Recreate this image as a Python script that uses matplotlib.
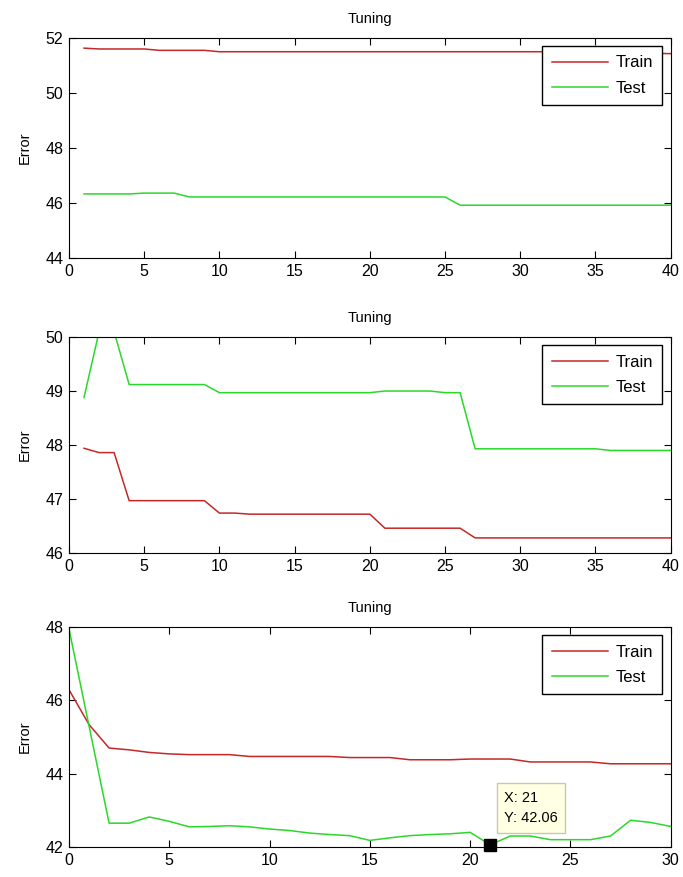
import numpy as np
import matplotlib
matplotlib.use('Agg')
import matplotlib.pyplot as plt

plt.rcParams['font.family'] = ['Liberation Sans', 'DejaVu Sans']

# panel 1: x = 1..40
x1 = np.arange(1, 41)
train1 = [51.63, 51.6, 51.6, 51.6, 51.6, 51.55, 51.55, 51.55, 51.55, 51.5,
          51.5, 51.5, 51.5, 51.5, 51.5, 51.5, 51.5, 51.5, 51.5, 51.5,
          51.5, 51.5, 51.5, 51.5, 51.5, 51.5, 51.5, 51.5, 51.5, 51.5,
          51.5, 51.5, 51.48, 51.48, 51.47, 51.47, 51.46, 51.45, 51.44, 51.43]
test1 = [46.33, 46.33, 46.33, 46.33, 46.36, 46.36, 46.36, 46.22, 46.22, 46.22,
         46.22, 46.22, 46.22, 46.22, 46.22, 46.22, 46.22, 46.22, 46.22, 46.22,
         46.22, 46.22, 46.22, 46.22, 46.22, 45.92, 45.92, 45.92, 45.92, 45.92,
         45.92, 45.92, 45.92, 45.92, 45.92, 45.92, 45.92, 45.92, 45.92, 45.92]

# panel 2: x = 1..40
x2 = np.arange(1, 41)
train2 = [47.94, 47.86, 47.86, 46.97, 46.97, 46.97, 46.97, 46.97, 46.97, 46.74,
          46.74, 46.72, 46.72, 46.72, 46.72, 46.72, 46.72, 46.72, 46.72, 46.72,
          46.46, 46.46, 46.46, 46.46, 46.46, 46.46, 46.28, 46.28, 46.28, 46.28,
          46.28, 46.28, 46.28, 46.28, 46.28, 46.28, 46.28, 46.28, 46.28, 46.28]
test2 = [48.88, 50.1, 50.1, 49.12, 49.12, 49.12, 49.12, 49.12, 49.12, 48.97,
         48.97, 48.97, 48.97, 48.97, 48.97, 48.97, 48.97, 48.97, 48.97, 48.97,
         49.0, 49.0, 49.0, 49.0, 48.97, 48.97, 47.93, 47.93, 47.93, 47.93,
         47.93, 47.93, 47.93, 47.93, 47.93, 47.9, 47.9, 47.9, 47.9, 47.9]

# panel 3: x = 0..30
x3 = np.arange(0, 31)
train3 = [46.29, 45.34, 44.7, 44.65, 44.58, 44.54, 44.52, 44.52, 44.52, 44.47,
          44.47, 44.47, 44.47, 44.47, 44.44, 44.44, 44.44, 44.38, 44.38, 44.38,
          44.4, 44.4, 44.4, 44.32, 44.32, 44.32, 44.32, 44.27, 44.27, 44.27, 44.27]
test3 = [47.95, 45.3, 42.65, 42.65, 42.82, 42.7, 42.55, 42.56, 42.58, 42.55,
         42.49, 42.45, 42.38, 42.34, 42.31, 42.18, 42.25, 42.31, 42.34, 42.36,
         42.4, 42.06, 42.3, 42.3, 42.2, 42.2, 42.2, 42.3, 42.73, 42.67, 42.56]

tip_x, tip_y = 21, 42.06

red = '#c42828'
green = '#2ad82a'

fig = plt.figure(figsize=(6.83, 8.77), dpi=100)
panels = [
    ([0.101, 0.7058, 0.881, 0.2509], x1, train1, test1, (0, 40), (44, 52), np.arange(44, 53, 2)),
    ([0.101, 0.3694, 0.881, 0.2463], x2, train2, test2, (0, 40), (46, 50), np.arange(46, 51, 1)),
    ([0.101, 0.0342, 0.881, 0.2508], x3, train3, test3, (0, 30), (42, 48), np.arange(42, 49, 2)),
]

axes = []
for pos, x, tr, te, xl, yl, yt in panels:
    ax = fig.add_axes(pos)
    ax.plot(x, tr, color=red, lw=1.1, label='Train')
    ax.plot(x, te, color=green, lw=1.1, label='Test')
    ax.set_xlim(*xl)
    ax.set_ylim(*yl)
    ax.set_yticks(yt)
    ax.set_xticks(np.arange(xl[0], xl[1] + 1, 5))
    ax.tick_params(direction='in', top=True, right=True, labelsize=11.5, length=5, pad=4)
    ax.set_title('Tuning', fontsize=10.5, pad=11)
    ax.set_ylabel('Error', fontsize=10.5, labelpad=10)
    leg = ax.legend(loc='upper right', fontsize=12, fancybox=False, framealpha=1,
                    edgecolor='black', handlelength=3.4, borderaxespad=0.5,
                    handletextpad=0.45, borderpad=0.55, labelspacing=0.62)
    leg.get_frame().set_linewidth(1.0)
    axes.append(ax)

ax = axes[2]
ax.plot([tip_x], [tip_y], 's', color='black', ms=8, clip_on=False, zorder=5)
ax.annotate(f'X: {tip_x}\nY: {tip_y:.2f}', xy=(tip_x, tip_y), xytext=(10, 14),
            textcoords='offset points', fontsize=10.5, ha='left', va='bottom',
            linespacing=1.6,
            bbox=dict(boxstyle='square,pad=0.5', fc='#ffffe4', ec='#c8c8b0', lw=1))

fig.savefig('out.png', dpi=100)
